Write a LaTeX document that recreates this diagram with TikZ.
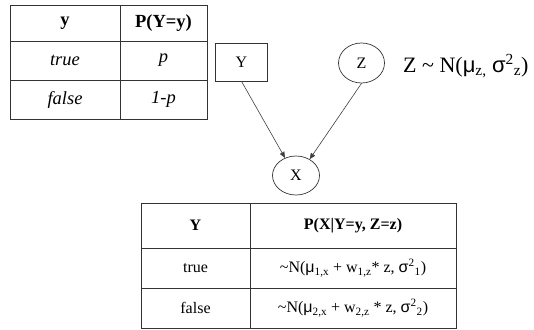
\documentclass[tikz,border=0pt]{standalone}
\usepackage{fontspec}
\setmainfont{Liberation Serif}
\newfontfamily\greekfont{Liberation Sans}
\usepackage{tikz}
\usetikzlibrary{positioning, arrows.meta, shapes.geometric}
\newcommand{\gmu}{{\greekfont μ}}
\newcommand{\gsig}{{\greekfont σ}}

\begin{document}
\begin{tikzpicture}[
    x=1pt, y=-1pt,
    grid/.style={draw=black!80, line width=0.9pt},
    cellA/.style={font=\fontsize{18.5}{20}\selectfont, inner sep=1pt},
    cellB/.style={font=\fontsize{16}{18}\selectfont, inner sep=1pt},
    var/.style={draw=black!80, line width=0.7pt, font=\fontsize{16}{18}\selectfont},
    boxvar/.style={var, rectangle, minimum width=52pt, minimum height=38pt},
    ovar/.style={var, ellipse, minimum width=46pt, minimum height=40pt, inner sep=0pt},
    ar/.style={-{Triangle[length=6pt, width=5pt]}, draw=black!75, line width=0.6pt},
  ]
  \useasboundingbox (0,0) rectangle (534,329);

  % ---- prior table of Y
  \draw[grid] (10,5) rectangle (207,119);
  \draw[grid] (120,5) -- (120,119);
  \draw[grid] (10,41) -- (207,41);
  \draw[grid] (10,80) -- (207,80);
  \node[cellA] (yhead) at (65,23) {\textbf{y}};
  \node[cellA] (phead) at (163.5,23) {\textbf{P(Y=y)}};
  \node[cellA] (ytrue) at (65,60.5) {\textit{true}};
  \node[cellA] (ptrue) at (163.5,60.5) {\textit{p}};
  \node[cellA] (yfalse) at (65,99.5) {\textit{false}};
  \node[cellA] (pfalse) at (163.5,99.5) {\textit{1-p}};

  % ---- network
  \node[boxvar] (Y) at (241.5,62) {Y};
  \node[ovar] (Z) at (361.5,63) {Z};
  \node[ovar, minimum width=47pt, minimum height=39pt] (X) at (296,175.5) {X};
  \node[font=\fontsize{22}{24}\selectfont, anchor=base west, inner sep=0pt] (zdist) at (403,72)
    {Z \textasciitilde{} N(\gmu\textsubscript{z,} \gsig\textsuperscript{2}\textsubscript{z})};

  \draw[ar] (Y.south) -- (X.122);
  \draw[ar] (Z.south) -- (X.50);

  % ---- conditional table of X
  \draw[grid] (141,203) rectangle (456,328);
  \draw[grid] (250,203) -- (250,328);
  \draw[grid] (141,248) -- (456,248);
  \draw[grid] (141,288) -- (456,288);
  \node[cellB] (Yhead) at (195.5,225.5) {\textbf{Y}};
  \node[cellB] (Phead) at (353,225.5) {\textbf{P(X|Y=y, Z=z)}};
  \node[cellB] (Ytrue) at (195.5,268) {true};
  \node[cellB] (Ptrue) at (353,268)
    {\textasciitilde N(\gmu\textsubscript{1,x} + w\textsubscript{1,z}* z, \gsig\textsuperscript{2}\textsubscript{1})};
  \node[cellB] (Yfalse) at (195.5,308) {false};
  \node[cellB] (Pfalse) at (353,308)
    {\textasciitilde N(\gmu\textsubscript{2,x} + w\textsubscript{2,z} * z, \gsig\textsuperscript{2}\textsubscript{2})};
\end{tikzpicture}
\end{document}
